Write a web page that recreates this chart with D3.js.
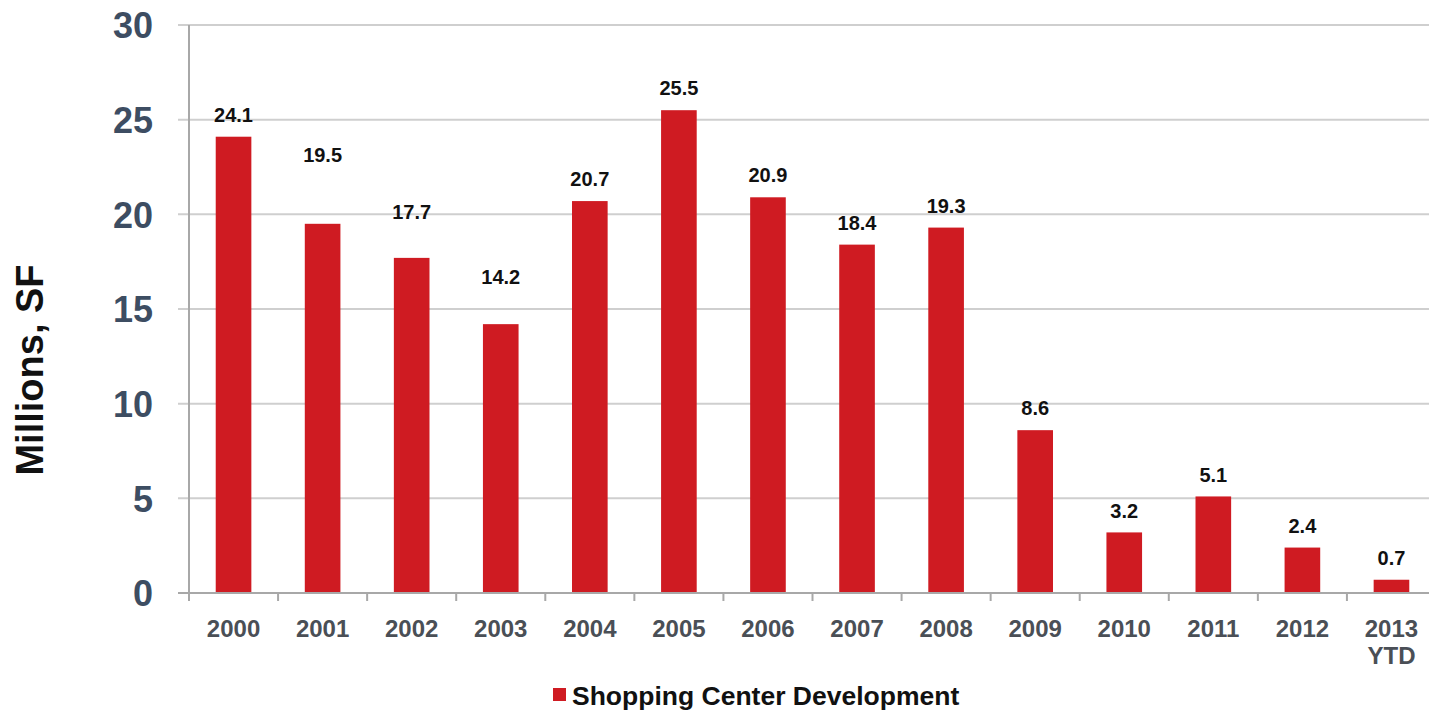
<!DOCTYPE html>
<html>
<head>
<meta charset="utf-8">
<script src="https://cdn.jsdelivr.net/npm/d3@7"></script>
<style>
	body { margin: 0; background: #fff; }
	svg { display: block; font-family: "Liberation Sans", Arial, sans-serif; font-weight: bold; }
</style>
</head>
<body>
<svg id="chart" width="1429" height="712"></svg>
<script>
var categories = ['2000', '2001', '2002', '2003', '2004', '2005', '2006', '2007', '2008', '2009', '2010', '2011', '2012', '2013 YTD'];
var values = [24.1, 19.5, 17.7, 14.2, 20.7, 25.5, 20.9, 18.4, 19.3, 8.6, 3.2, 5.1, 2.4, 0.7];
var yTicks = [0, 5, 10, 15, 20, 25, 30];
var seriesName = 'Shopping Center Development';
var yTitle = 'Millions, SF';

// a few labels in the original sit higher than the rest
var labelLift = [0, 47, 24, 25, 0, 0, 0, 0, 0, 0, 0, 0, 0, 0];

var svg = d3.select('#chart'),
	width = 1429,
	plotLeft = 189, plotRight = 1436, plotTop = 25, plotBottom = 593,
	barColor = '#cf1b22';

var x = d3.scaleBand().domain(categories).range([plotLeft, plotRight]).paddingInner(0.6).paddingOuter(0.3);
var y = d3.scaleLinear().domain([0, 30]).range([plotBottom, plotTop]);
var step = x.step();

// gridlines
svg.append('g').selectAll('line').data(yTicks.filter(function(d) { return d > 0; })).enter().append('line')
	.attr('x1', plotLeft - 11).attr('x2', width)
	.attr('y1', function(d) { return y(d); }).attr('y2', function(d) { return y(d); })
	.attr('stroke', '#cfcfcf').attr('stroke-width', 2);

// y axis
var yAxis = svg.append('g').attr('transform', 'translate(' + plotLeft + ',0)')
	.call(d3.axisLeft(y).tickValues(yTicks).tickSize(0).tickPadding(36));
yAxis.select('.domain').remove();
yAxis.selectAll('text').attr('font-size', 36).attr('fill', '#3d4d62').attr('font-family', null).attr('dy', '0.36em');
svg.append('line').attr('x1', plotLeft).attr('x2', plotLeft).attr('y1', plotTop).attr('y2', plotBottom)
	.attr('stroke', '#a8a8a8').attr('stroke-width', 2);

// bars
svg.append('g').selectAll('rect').data(values).enter().append('rect')
	.attr('x', function(d, i) { return x(categories[i]); })
	.attr('width', x.bandwidth())
	.attr('y', function(d) { return y(d); })
	.attr('height', function(d) { return y(0) - y(d); })
	.attr('fill', barColor);

// value labels
svg.append('g').selectAll('text').data(values).enter().append('text')
	.attr('x', function(d, i) { return x(categories[i]) + x.bandwidth() / 2; })
	.attr('y', function(d, i) { return y(d) - 22 - labelLift[i]; })
	.attr('dy', '0.36em')
	.attr('text-anchor', 'middle')
	.attr('font-size', 20).attr('fill', '#111')
	.text(function(d) { return d.toFixed(1); });

// x axis
var xAxis = svg.append('g').attr('transform', 'translate(0,' + plotBottom + ')')
	.call(d3.axisBottom(x).tickSize(0).tickPadding(0));
xAxis.select('.domain').remove();
xAxis.selectAll('.tick text').attr('font-size', 24).attr('fill', '#4a4f56').attr('font-family', null)
	.attr('y', 0).attr('dy', null)
	.each(function(d) {
		var t = d3.select(this), parts = d.split(' ');
		t.text(null);
		parts.forEach(function(p, k) {
			t.append('tspan').attr('x', 0).attr('y', 44 + k * 27).text(p);
		});
	});
svg.append('line').attr('x1', plotLeft - 11).attr('x2', width).attr('y1', plotBottom).attr('y2', plotBottom)
	.attr('stroke', '#a8a8a8').attr('stroke-width', 2);
svg.append('g').selectAll('line').data(d3.range(categories.length + 1)).enter().append('line')
	.attr('x1', function(i) { return plotLeft + i * step; }).attr('x2', function(i) { return plotLeft + i * step; })
	.attr('y1', plotBottom).attr('y2', plotBottom + 8)
	.attr('stroke', '#a8a8a8').attr('stroke-width', 2);

// y title
svg.append('text').attr('transform', 'translate(43,370) rotate(-90)')
	.attr('text-anchor', 'middle').attr('font-size', 38).attr('fill', '#111').text(yTitle);

// legend
var legend = svg.append('g').attr('transform', 'translate(553,695)');
legend.append('rect').attr('x', 0).attr('y', -7).attr('width', 13).attr('height', 13).attr('fill', barColor);
legend.append('text').attr('x', 19).attr('dy', '0.36em').attr('font-size', 26.5).attr('fill', '#111').text(seriesName);
</script>
</body>
</html>
